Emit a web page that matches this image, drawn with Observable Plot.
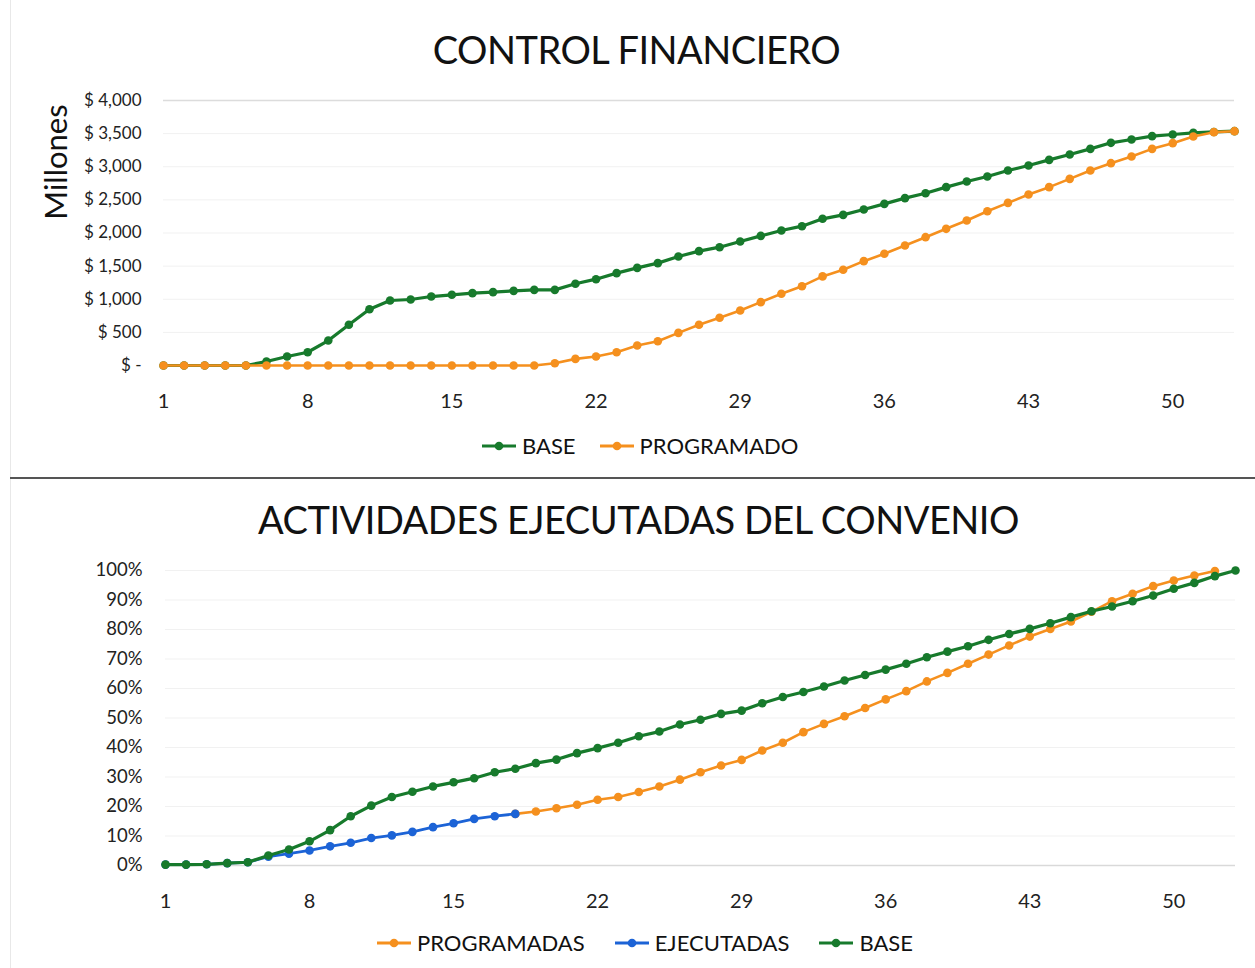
<!DOCTYPE html>
<html>
<head>
<meta charset="utf-8">
<script src="https://cdn.jsdelivr.net/npm/d3@7"></script>
<script src="https://cdn.jsdelivr.net/npm/@observablehq/plot@0.6"></script>
<style>
  html, body { margin: 0; padding: 0; background: #fff; }
  body { font-family: Lato, "Open Sans", sans-serif; color: #111; }
  #page { position: relative; width: 1255px; height: 968px; overflow: hidden; background: #fff; }
  .title { position: absolute; left: 9px; width: 1255px; text-align: center; font-size: 38px; letter-spacing: -0.5px; color: #111; white-space: nowrap; }
  .chart { position: absolute; left: 0; }
  .legend { position: absolute; display: flex; align-items: center; font-size: 22px; color: #111; white-space: nowrap; }
  .legend .item { display: flex; align-items: center; }
  .legend svg { margin-right: 6px; }
  .ylabel { position: absolute; font-size: 31px; color: #111; transform: rotate(-90deg); transform-origin: center center; white-space: nowrap; }
  .divider { position: absolute; left: 10px; top: 477px; width: 1245px; height: 2px; background: #555; }
  .leftborder { position: absolute; left: 10px; top: 0; width: 1px; height: 968px; background: #e8e8e8; }
</style>
</head>
<body>
<div id="page">
  <div class="leftborder"></div>
  <div class="title" style="top:26px">CONTROL FINANCIERO</div>
  <div class="ylabel" style="left:-3px; top:143px;">Millones</div>
  <div id="chart1" class="chart" style="top:80px"></div>
  <div id="legend1" class="legend" style="left:482px; top:432px"></div>
  <div class="divider"></div>
  <div class="title" style="top:496px; left:11px">ACTIVIDADES EJECUTADAS DEL CONVENIO</div>
  <div id="chart2" class="chart" style="top:550px"></div>
  <div id="legend2" class="legend" style="left:377px; top:929px"></div>
</div>
<script>
// ---------- DATA ----------
const weeks = d3.range(1, 54); // semanas 1..53
const xTicks = [1, 8, 15, 22, 29, 36, 43, 50];

// CONTROL FINANCIERO (millones de $)
const seriesTop = ["BASE", "PROGRAMADO"];
const baseTop = [0, 0, 0, 0, 0, 60, 136, 200, 377, 614, 850, 981, 996, 1041, 1067, 1092, 1107, 1127, 1142, 1142,
  1233, 1303, 1394, 1474, 1545, 1645, 1726, 1786, 1872, 1957, 2038, 2103, 2214, 2274, 2355, 2440, 2526, 2601, 2692, 2777,
  2853, 2943, 3019, 3104, 3185, 3270, 3361, 3411, 3462, 3487, 3512, 3525, 3537];
const progTop = [0, 0, 0, 0, 0, 0, 0, 0, 0, 0, 0, 0, 0, 0, 0, 0, 0, 0, 0, 35,
  100, 136, 201, 302, 367, 493, 614, 720, 830, 956, 1082, 1197, 1345, 1445, 1575, 1686, 1811, 1937, 2063, 2189,
  2329, 2455, 2581, 2692, 2817, 2943, 3054, 3155, 3270, 3356, 3457, 3522, 3537];
const yTicksTop = [0, 500, 1000, 1500, 2000, 2500, 3000, 3500, 4000];

// ACTIVIDADES EJECUTADAS DEL CONVENIO (%)
const seriesBot = ["PROGRAMADAS", "EJECUTADAS", "BASE"];
const baseBot = [0.3, 0.3, 0.4, 0.8, 1.1, 3.4, 5.4, 8.2, 12.0, 16.7, 20.3, 23.2, 25.0, 26.8, 28.2, 29.6, 31.6, 32.8, 34.7, 35.9,
  38.1, 39.8, 41.6, 43.8, 45.4, 47.8, 49.4, 51.4, 52.5, 55.0, 57.1, 58.8, 60.7, 62.7, 64.6, 66.4, 68.4, 70.6, 72.5, 74.3,
  76.5, 78.5, 80.2, 82.1, 84.2, 86.2, 87.8, 89.6, 91.5, 93.8, 95.8, 98.1, 100];
const ejecWeeks = d3.range(1, 19); // semanas 1..18
const ejecBot = [0.3, 0.3, 0.4, 0.8, 1.1, 3.0, 4.0, 5.1, 6.5, 7.7, 9.3, 10.2, 11.4, 13.0, 14.3, 15.8, 16.7, 17.5];
const progWeeks = d3.range(18, 53); // semanas 18..52
const progBot = [17.5, 18.3, 19.4, 20.6, 22.3, 23.2, 24.9, 26.8, 29.1, 31.6, 33.9, 35.8, 39.0, 41.6, 45.2, 48.0, 50.6, 53.4, 56.3, 59.1,
  62.4, 65.3, 68.4, 71.5, 74.6, 77.6, 80.2, 82.7, 86.0, 89.6, 92.1, 94.7, 96.6, 98.3, 99.8];
const yTicksBot = [0, 10, 20, 30, 40, 50, 60, 70, 80, 90, 100];

const colors = { BASE: "#177a2c", PROGRAMADO: "#f5901e", PROGRAMADAS: "#f5901e", EJECUTADAS: "#1c63d6" };

// ---------- CHART 1 ----------
const dTopBase = weeks.map((w, i) => ({ week: w, value: baseTop[i] }));
const dTopProg = weeks.map((w, i) => ({ week: w, value: progTop[i] }));
const fmtMoney = d => d === 0 ? "$ -" : "$ " + d3.format(",")(d);

const chart1 = Plot.plot({
  width: 1255, height: 340,
  marginTop: 20, marginBottom: 55, marginLeft: 163, marginRight: 21,
  style: { fontFamily: "Lato, 'Open Sans', sans-serif", background: "transparent", color: "#222" },
  x: { domain: [1, 53], label: null },
  y: { domain: [0, 4000], label: null },
  marks: [
    Plot.ruleY(yTicksTop.slice(1, -1), { stroke: "#f1f1f1", strokeWidth: 1 }),
    Plot.ruleY([4000], { stroke: "#dcdcdc", strokeWidth: 1.5 }),
    Plot.axisX(xTicks, { tickSize: 0, tickPadding: 28, fontSize: 20, tickFormat: d => String(d), label: null }),
    Plot.axisY(yTicksTop, { tickSize: 0, tickPadding: 22, fontSize: 17, tickFormat: fmtMoney, label: null }),
    Plot.lineY(dTopBase, { x: "week", y: "value", stroke: colors.BASE, strokeWidth: 3.2 }),
    Plot.dot(dTopBase, { x: "week", y: "value", fill: colors.BASE, r: 4.3 }),
    Plot.lineY(dTopProg, { x: "week", y: "value", stroke: colors.PROGRAMADO, strokeWidth: 2.6 }),
    Plot.dot(dTopProg, { x: "week", y: "value", fill: colors.PROGRAMADO, r: 4.3 })
  ]
});
document.getElementById("chart1").appendChild(chart1);

// ---------- CHART 2 ----------
const dBotBase = weeks.map((w, i) => ({ week: w, value: baseBot[i] / 100 }));
const dBotEjec = ejecWeeks.map((w, i) => ({ week: w, value: ejecBot[i] / 100 }));
const dBotProg = progWeeks.map((w, i) => ({ week: w, value: progBot[i] / 100 }));

const chart2 = Plot.plot({
  width: 1255, height: 370,
  marginTop: 20, marginBottom: 55, marginLeft: 165, marginRight: 20,
  style: { fontFamily: "Lato, 'Open Sans', sans-serif", background: "transparent", color: "#222" },
  x: { domain: [1, 53], label: null },
  y: { domain: [0, 1], label: null },
  marks: [
    Plot.ruleY(yTicksBot.slice(1).map(d => d / 100), { stroke: "#f1f1f1", strokeWidth: 1 }),
    Plot.ruleY([0], { stroke: "#d9d9d9", strokeWidth: 1.5 }),
    Plot.axisX(xTicks, { tickSize: 0, tickPadding: 28, fontSize: 20, tickFormat: d => String(d), label: null }),
    Plot.axisY(yTicksBot.map(d => d / 100), { tickSize: 0, tickPadding: 23, fontSize: 18.5, tickFormat: d3.format(".0%"), label: null }),
    Plot.lineY(dBotProg, { x: "week", y: "value", stroke: colors.PROGRAMADAS, strokeWidth: 2.6 }),
    Plot.dot(dBotProg, { x: "week", y: "value", fill: colors.PROGRAMADAS, r: 4.3 }),
    Plot.lineY(dBotEjec, { x: "week", y: "value", stroke: colors.EJECUTADAS, strokeWidth: 2.8 }),
    Plot.dot(dBotEjec, { x: "week", y: "value", fill: colors.EJECUTADAS, r: 4.3 }),
    Plot.lineY(dBotBase, { x: "week", y: "value", stroke: colors.BASE, strokeWidth: 3.2 }),
    Plot.dot(dBotBase, { x: "week", y: "value", fill: colors.BASE, r: 4.3 })
  ]
});
document.getElementById("chart2").appendChild(chart2);

// ---------- LEGENDS ----------
function legend(el, names, gap) {
  names.forEach((n, i) => {
    const item = document.createElement("div");
    item.className = "item";
    if (i > 0) item.style.marginLeft = gap + "px";
    const c = colors[n];
    item.innerHTML = `<svg width="34" height="12"><line x1="0" y1="6" x2="34" y2="6" stroke="${c}" stroke-width="3"/><circle cx="17" cy="6" r="4.3" fill="${c}"/></svg><span>${n}</span>`;
    el.appendChild(item);
  });
}
legend(document.getElementById("legend1"), seriesTop, 24);
legend(document.getElementById("legend2"), seriesBot, 30);
</script>
</body>
</html>
